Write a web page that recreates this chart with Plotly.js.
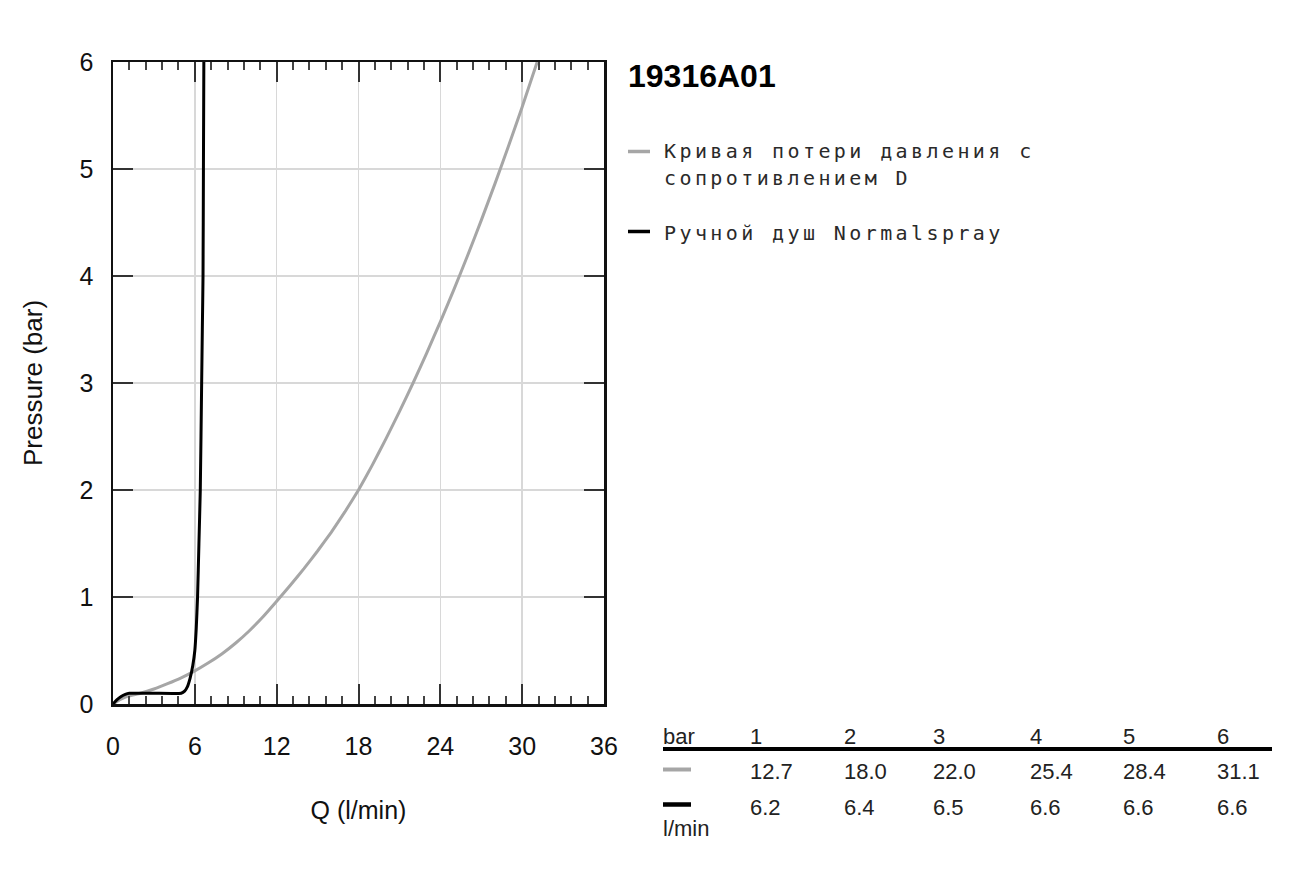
<!DOCTYPE html>
<html>
<head>
<meta charset="utf-8">
<script src="https://cdn.plot.ly/plotly-3.0.1.min.js"></script>
<style>
html,body{margin:0;padding:0;background:#fff;}
#chart{width:1310px;height:874px;}
.annotation[data-index="1"] text,.annotation[data-index="2"] text,.annotation[data-index="3"] text{letter-spacing:3.4px;}
</style>
</head>
<body>
<div id="chart"></div>
<script>
// ---- data ----
const chartTitle = "19316A01";
const seriesNames = ["Кривая потери давления с\nсопротивлением D", "Ручной душ Normalspray"];
// grey curve: pressure-loss curve, resistance D
const greyQ = [0, 0.5, 1, 2, 3, 4, 5, 6, 7, 8, 9, 10, 11, 12, 13, 14, 15, 16, 17, 18, 19, 20, 21, 22, 23, 24, 25, 26, 27, 28, 29, 30, 31.1];
const greyP = [0, 0.04, 0.07, 0.1, 0.14, 0.19, 0.245, 0.31, 0.385, 0.47, 0.57, 0.685, 0.815, 0.96, 1.11, 1.265, 1.43, 1.605, 1.795, 2.0, 2.23, 2.475, 2.732, 3.0, 3.28, 3.571, 3.875, 4.191, 4.52, 4.861, 5.214, 5.58, 6.0];
// black curve: hand shower Normalspray
const blackQ = [0, 0.3, 0.6, 0.9, 1.2, 3.0, 5.0, 5.25, 5.45, 5.65, 5.85, 6.0, 6.1, 6.2, 6.3, 6.4, 6.5, 6.55, 6.6, 6.63, 6.66];
const blackP = [0, 0.04, 0.07, 0.09, 0.1, 0.1, 0.1, 0.12, 0.16, 0.24, 0.36, 0.5, 0.7, 1.0, 1.5, 2.0, 3.0, 3.5, 4.0, 5.0, 6.0];
const xTickVals = [0, 6, 12, 18, 24, 30, 36];
const yTickVals = [0, 1, 2, 3, 4, 5, 6];
const xTitle = "Q (l/min)";
const yTitle = "Pressure (bar)";
// table
const tableHeader = "bar";
const tablePressures = ["1", "2", "3", "4", "5", "6"];
const tableGrey = ["12.7", "18.0", "22.0", "25.4", "28.4", "31.1"];
const tableBlack = ["6.2", "6.4", "6.5", "6.6", "6.6", "6.6"];
const tableUnit = "l/min";

// ---- styles ----
const GREY = "#a6a6a6";
const BLACK = "#000000";
const SANS = "Liberation Sans, Arial, sans-serif";
const MONO = "DejaVu Sans Mono, monospace";

const traces = [
  {x: greyQ, y: greyP, mode: "lines", name: seriesNames[0].replace("\n", " "), line: {color: GREY, width: 3, shape: "spline", smoothing: 0.3}, showlegend: false, hoverinfo: "x+y"},
  {x: blackQ, y: blackP, mode: "lines", name: seriesNames[1], line: {color: BLACK, width: 3, shape: "spline", smoothing: 0.4}, showlegend: false, hoverinfo: "x+y"}
];

function px2paperY(py){ return (704 - py) / 642; }
function px2paperX(px){ return (px - 113) / 491; }

const annotations = [];
const shapes = [];
// title
annotations.push({xref: "paper", yref: "paper", x: px2paperX(626), y: px2paperY(76), xanchor: "left", yanchor: "middle", text: "<b>" + chartTitle + "</b>", showarrow: false, font: {family: SANS, size: 32, color: "#000"}});
// legend
const legLines = [seriesNames[0].split("\n"), seriesNames[1].split("\n")];
const legTop = [151, 233];
const legSampleY = [151.5, 231.5];
const legColors = [GREY, BLACK];
legLines.forEach((lines, i) => {
  lines.forEach((ln, j) => {
    annotations.push({xref: "paper", yref: "paper", x: px2paperX(662), y: px2paperY(legTop[i] + j * 27), xanchor: "left", yanchor: "middle", align: "left", text: ln, showarrow: false, font: {family: MONO, size: 20, color: "#2a2a2a"}});
  });
  shapes.push({type: "line", xref: "paper", yref: "paper", x0: px2paperX(628), x1: px2paperX(650), y0: px2paperY(legSampleY[i]), y1: px2paperY(legSampleY[i]), line: {color: legColors[i], width: 3.5}});
});
// table
const colX = [748, 842, 931, 1028, 1121, 1215];
const TFONT = {family: SANS, size: 22, color: "#222"};
annotations.push({xref: "paper", yref: "paper", x: px2paperX(661), y: px2paperY(736), xanchor: "left", yanchor: "middle", text: tableHeader, showarrow: false, font: TFONT});
tablePressures.forEach((t, k) => {
  annotations.push({xref: "paper", yref: "paper", x: px2paperX(colX[k]), y: px2paperY(736), xanchor: "left", yanchor: "middle", text: t, showarrow: false, font: TFONT});
  annotations.push({xref: "paper", yref: "paper", x: px2paperX(colX[k]), y: px2paperY(771), xanchor: "left", yanchor: "middle", text: tableGrey[k], showarrow: false, font: TFONT});
  annotations.push({xref: "paper", yref: "paper", x: px2paperX(colX[k]), y: px2paperY(807), xanchor: "left", yanchor: "middle", text: tableBlack[k], showarrow: false, font: TFONT});
});
annotations.push({xref: "paper", yref: "paper", x: px2paperX(661), y: px2paperY(828), xanchor: "left", yanchor: "middle", text: tableUnit, showarrow: false, font: {family: SANS, size: 22, color: "#222"}});
shapes.push({type: "line", xref: "paper", yref: "paper", x0: px2paperX(663), x1: px2paperX(1272), y0: px2paperY(749), y1: px2paperY(749), line: {color: "#000", width: 4}});
shapes.push({type: "line", xref: "paper", yref: "paper", x0: px2paperX(663), x1: px2paperX(691), y0: px2paperY(769.5), y1: px2paperY(769.5), line: {color: GREY, width: 4}});
shapes.push({type: "line", xref: "paper", yref: "paper", x0: px2paperX(663), x1: px2paperX(691), y0: px2paperY(804.5), y1: px2paperY(804.5), line: {color: "#000", width: 4.5}});

const layout = {
  width: 1310, height: 874,
  margin: {l: 113, r: 706, t: 62, b: 170, pad: 0},
  paper_bgcolor: "#fff", plot_bgcolor: "#fff",
  showlegend: false,
  font: {family: SANS, color: "#222"},
  xaxis: {
    range: [0, 36], tickvals: xTickVals, ticktext: xTickVals.map(String),
    ticks: "inside", ticklen: 20, tickwidth: 2, tickcolor: "#333",
    minor: {dtick: 1.2, tick0: 0, ticks: "inside", ticklen: 8, tickwidth: 2, tickcolor: "#444", showgrid: false},
    showline: true, linecolor: "#111", linewidth: 2.5, mirror: "ticks",
    showgrid: true, gridcolor: "#d8d8d8", gridwidth: 1.5,
    zeroline: false,
    tickfont: {family: SANS, size: 25, color: "#111"}, ticklabelstandoff: 18,
    title: {text: xTitle, font: {family: SANS, size: 25, color: "#111"}, standoff: 43},
    automargin: true, fixedrange: true
  },
  yaxis: {
    range: [0, 6], tickvals: yTickVals, ticktext: yTickVals.map(String),
    ticks: "inside", ticklen: 20, tickwidth: 2, tickcolor: "#333",
    showline: true, linecolor: "#111", linewidth: 2.5, mirror: "ticks",
    showgrid: true, gridcolor: "#d8d8d8", gridwidth: 1.5,
    zeroline: false,
    tickfont: {family: SANS, size: 25, color: "#111"}, ticklabelstandoff: 12,
    title: {text: yTitle, font: {family: SANS, size: 26, color: "#111"}, standoff: 30},
    automargin: true, fixedrange: true
  },
  annotations: annotations,
  shapes: shapes
};

Plotly.newPlot("chart", traces, layout, {displayModeBar: false, staticPlot: true});
</script>
</body>
</html>
